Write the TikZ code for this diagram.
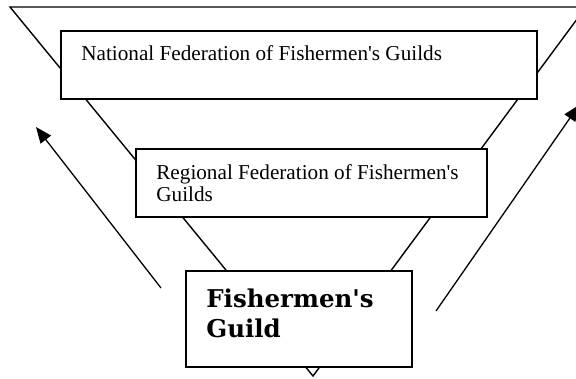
\documentclass[tikz,border=0pt]{standalone}
\usepackage{fontspec}
\setmainfont{Liberation Serif}[Ligatures=TeXOff]
\newfontfamily\guildfont{DejaVu Serif}
\usetikzlibrary{arrows.meta,calc}
\begin{document}
\begin{tikzpicture}[x=1pt,y=-1pt,
  edge/.style={line width=1.4pt},
  box/.style={draw, line width=1.7pt, fill=white, rectangle, inner sep=0pt},
  boxtext/.style={inner sep=0pt, font=\fontsize{21.2}{22.7}\selectfont, align=left},
  guildtext/.style={inner sep=0pt, font=\guildfont\bfseries\fontsize{24.5}{30}\selectfont, align=left},
  uparrow/.style={line width=1.3pt, -{Triangle[length=16pt,width=13pt]}}]
\useasboundingbox (0,0) rectangle (576,378);
% inverted triangle behind the boxes
\coordinate (tl) at (10,7);
\coordinate (tr) at (586,7);
\coordinate (apex) at (313,376);
\draw[edge, line join=miter] (tr) -- (tl) -- (apex) -- cycle;
% the three levels
\node[box, minimum width=476pt, minimum height=68pt] (national) at (299,65) {};
\node[box, minimum width=351pt, minimum height=68pt] (regional) at (311.5,183) {};
\node[box, minimum width=226pt, minimum height=96pt] (guild) at (299,319) {};
\node[boxtext, anchor=base west] (nationaltext) at ($(national.north west)+(21,30)$) {National Federation of Fishermen's Guilds};
\node[boxtext, anchor=north west] (regionaltext) at ($(regional.north west)+(21,16)$) {Regional Federation of Fishermen's\\Guilds};
\node[guildtext, anchor=north west] (guildtext) at ($(guild.north west)+(21,19)$) {Fishermen's\\Guild};
% upward arrows on both sides
\coordinate (ltail) at (161,288);
\coordinate (lhead) at (36,127);
\coordinate (rtail) at (436,311);
\coordinate (rhead) at (579,105);
\draw[uparrow] (ltail) -- (lhead);
\draw[uparrow] (rtail) -- (rhead);
\end{tikzpicture}
\end{document}
